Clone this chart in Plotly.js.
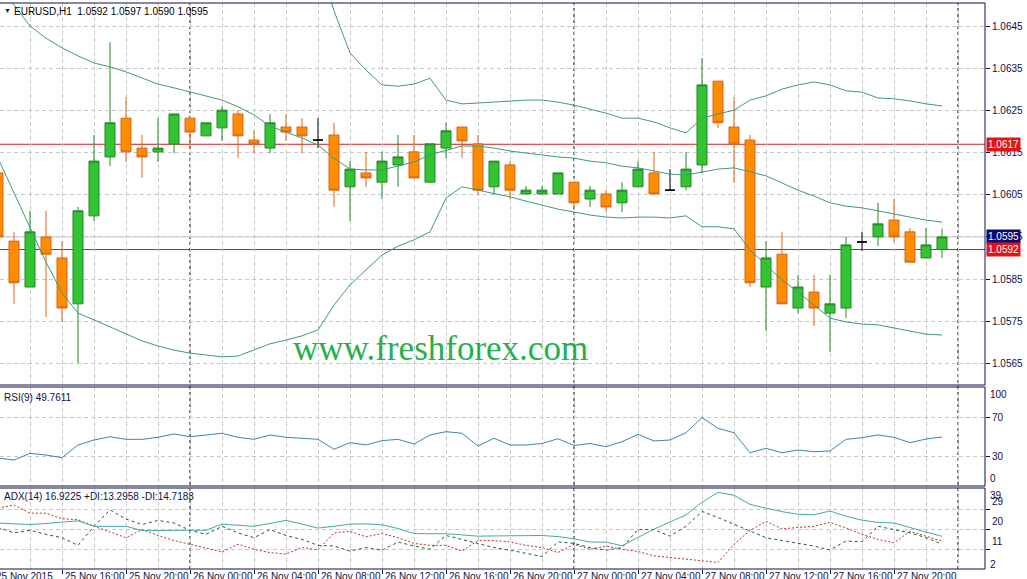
<!DOCTYPE html>
<html><head><meta charset="utf-8">
<script src="https://cdn.plot.ly/plotly-3.0.1.min.js"></script>
<style>html,body{margin:0;padding:0;background:#fff;}#chart{width:1027px;height:579px;}</style>
</head><body><div id="chart"></div>
<script>
// ---------- DATA ----------
const times = [
'2015-11-25 12:00','2015-11-25 13:00','2015-11-25 14:00','2015-11-25 15:00','2015-11-25 16:00','2015-11-25 17:00',
'2015-11-25 18:00','2015-11-25 19:00','2015-11-25 20:00','2015-11-25 21:00','2015-11-25 22:00','2015-11-25 23:00',
'2015-11-26 00:00','2015-11-26 01:00','2015-11-26 02:00','2015-11-26 03:00','2015-11-26 04:00','2015-11-26 05:00',
'2015-11-26 06:00','2015-11-26 07:00','2015-11-26 08:00','2015-11-26 09:00','2015-11-26 10:00','2015-11-26 11:00',
'2015-11-26 12:00','2015-11-26 13:00','2015-11-26 14:00','2015-11-26 15:00','2015-11-26 16:00','2015-11-26 17:00',
'2015-11-26 18:00','2015-11-26 19:00','2015-11-26 20:00','2015-11-26 21:00','2015-11-26 22:00','2015-11-26 23:00',
'2015-11-27 00:00','2015-11-27 01:00','2015-11-27 02:00','2015-11-27 03:00','2015-11-27 04:00','2015-11-27 05:00',
'2015-11-27 06:00','2015-11-27 07:00','2015-11-27 08:00','2015-11-27 09:00','2015-11-27 10:00','2015-11-27 11:00',
'2015-11-27 12:00','2015-11-27 13:00','2015-11-27 14:00','2015-11-27 15:00','2015-11-27 16:00','2015-11-27 17:00',
'2015-11-27 18:00','2015-11-27 19:00','2015-11-27 20:00','2015-11-27 21:00','2015-11-27 22:00','2015-11-27 23:00'];

const openP = [1.06102,1.0594,1.05831,1.0595,1.059,1.05791,1.06,1.0614,1.06232,1.06161,1.06152,1.06171,
1.06232,1.0619,1.06209,1.06242,1.0618,1.06161,1.06211,1.06211,1.0618,1.06192,1.06069,1.06102,1.0608,1.06121,1.06152,1.0608,1.06161,1.06211,1.06171,1.06069,1.06121,1.06052,1.06052,1.06052,
1.0608,1.0604,1.06052,1.06031,1.06069,1.06102,1.06061,1.06069,1.06121,1.0632,1.06211,1.0618,1.05831,1.05909,1.05781,1.05819,1.05769,1.05781,1.05938,1.0595,1.0599,1.05962,1.059,1.0592];
const highP = [1.06114,1.05962,1.06012,1.06012,1.0594,1.06021,1.06192,1.06413,1.06282,1.06192,1.06232,1.06242,
1.06232,1.06221,1.06261,1.06251,1.06202,1.06242,1.06242,1.06232,1.06232,1.06221,1.0613,1.06152,1.06152,1.06192,1.06192,1.06171,1.06221,1.06211,1.06192,1.0613,1.0613,1.06071,1.06071,1.06102,
1.0608,1.06071,1.06061,1.0608,1.0613,1.06152,1.06111,1.06152,1.06375,1.0632,1.06282,1.06192,1.0594,1.05962,1.0586,1.0586,1.0586,1.0595,1.05962,1.06031,1.0604,1.05971,1.05971,1.0597];
const lowP = [1.05943,1.05791,1.05831,1.0576,1.05748,1.0565,1.05988,1.06118,1.06128,1.0609,1.06128,1.06149,
1.06159,1.0619,1.06178,1.06137,1.06149,1.06149,1.06178,1.06149,1.06161,1.06021,1.05988,1.06069,1.0604,1.06069,1.0609,1.0608,1.06137,1.06137,1.0605,1.0605,1.0604,1.06052,1.06052,1.06052,
1.06014,1.06021,1.06009,1.06009,1.06069,1.06052,1.06061,1.06061,1.06102,1.06209,1.06078,1.05831,1.05726,1.05791,1.05769,1.05738,1.05677,1.05757,1.05917,1.05928,1.05938,1.0589,1.059,1.059];
const closeP = [1.0595,1.05841,1.05962,1.05909,1.05781,1.06012,1.0613,1.06221,1.06152,1.0614,1.06161,1.06242,
1.06199,1.06221,1.06251,1.0619,1.06171,1.06221,1.06199,1.0619,1.0618,1.06061,1.06111,1.0609,1.0613,1.0614,1.0609,1.06171,1.06202,1.06178,1.06061,1.0613,1.06061,1.06061,1.06061,1.06102,
1.06031,1.06061,1.06021,1.06061,1.06111,1.06052,1.06061,1.06111,1.06311,1.06221,1.06171,1.05841,1.059,1.05791,1.05831,1.05781,1.05791,1.05931,1.05938,1.05981,1.0595,1.0589,1.05931,1.0595];

const bbUpper = [1.06959,1.06947,1.06931,1.06955,1.06981,1.0699,1.06974,1.06971,1.06964,1.06952,1.06936,1.06926,
1.06914,1.069,1.06886,1.0685,1.06798,1.06731,1.06693,1.06655,1.06608,1.06487,1.06387,1.06346,1.06311,1.06308,1.06313,1.06327,1.06275,1.06266,1.06268,1.0627,1.06273,1.06275,1.06275,1.0627,
1.06263,1.06254,1.06244,1.06232,1.06232,1.06223,1.06209,1.06197,1.06232,1.06242,1.06251,1.06275,1.06285,1.06301,1.06311,1.06318,1.06311,1.06297,1.06294,1.0628,1.06278,1.06273,1.06266,1.06261];
const bbMiddle = [1.06548,1.06501,1.06451,1.06422,1.06399,1.0638,1.06363,1.06354,1.06342,1.06327,1.06313,1.06304,
1.06294,1.06285,1.06275,1.06259,1.0624,1.06213,1.06199,1.06185,1.06168,1.06137,1.06111,1.06109,1.06109,1.06118,1.06128,1.06145,1.06156,1.06166,1.06166,1.06161,1.06154,1.06149,1.06145,1.0614,
1.06137,1.0613,1.06126,1.06118,1.06114,1.06107,1.06099,1.06097,1.06104,1.06111,1.06114,1.06104,1.06095,1.06078,1.06061,1.06047,1.06031,1.06023,1.06019,1.06012,1.06004,1.05997,1.0599,1.05985];
const bbLower = [1.06137,1.06054,1.05971,1.0589,1.05817,1.05769,1.05753,1.05736,1.05719,1.05703,1.05691,1.05681,
1.05674,1.05669,1.05665,1.05667,1.05681,1.05696,1.05705,1.05715,1.05729,1.05788,1.05836,1.05871,1.05907,1.05928,1.05943,1.05962,1.06042,1.06069,1.06061,1.06054,1.06045,1.06035,1.06026,1.06016,
1.06009,1.06002,1.05997,1.05995,1.05997,1.05997,1.05995,1.06,1.05974,1.05974,1.05969,1.05919,1.05883,1.05848,1.05819,1.05788,1.05757,1.05748,1.05743,1.05741,1.05734,1.05726,1.05719,1.05717];

const rsi9 = [27.8,25.8,32.8,31,28.3,41.5,46.7,50.1,47.4,47.4,49.5,53,
50.1,51.9,53.7,49.5,47.4,51.9,49.5,48.5,47.4,37,43.9,41.5,46,47.4,42.5,51.9,55.4,53.7,40.4,48.5,41.5,41.5,43,48,
41,43,39.7,44.9,52.6,45.7,46.7,54.3,70,58.9,54.3,33.4,38,33.4,36.3,34.5,35.2,47.4,49.1,51.9,49.5,43.9,47.7,49.76];

const adx14 = [23.0,22.8,22.3,22.8,23.3,24.0,21.5,21.5,21.5,19.6,19.6,19.7,
19.7,19.7,22.5,22,21.5,22.8,24.2,22.5,20.7,21.5,22.5,22.6,22.2,20.5,18.2,18.1,18.1,17.6,17.0,17.1,17.2,17.3,17.3,16.8,
15.8,14.3,14.3,12.6,16.3,20.2,23.5,26.7,32.5,37,35.7,31.5,29.8,28.2,27,26.8,28.5,26.1,24.3,23.3,23,20.8,18.9,16.92];
const plusDI = [21,18.5,19.7,17.8,16.3,12.8,21.5,29,24.8,22.3,24.2,23,
19.7,17.8,21.5,18.5,16.3,20,17.3,15.5,12.8,12.5,10.2,11.8,10.6,14.3,12.5,11,17.3,15.5,13.6,11.8,10.6,9.2,7.7,14.4,
13.7,11.8,10.6,11.8,20,20,17,21.5,28.3,25.5,22.5,19.2,16.3,15,13.7,12.5,10.7,14.8,14.4,21.5,20,18.5,16.3,13.3];
const minusDI = [29.8,31.2,27.5,27.5,25,24.5,21.5,18.8,16.3,20,17.3,15,
13.3,11.3,9.8,13.3,11,9.5,8.8,11.8,10.7,18.5,19.2,16.7,18.2,16.3,13.7,12.8,12.8,10.2,15,15,14.4,12.8,11.8,9.5,
13.3,11,12.5,11,10,8,7.3,6.5,5.8,5,13.3,19.6,23.8,20.3,21,21.5,23.3,20.8,17.8,15.5,14,19.2,17,14.7];

const levelLines = [1.0617, 1.0592];
const bidPrice = 1.0595;
const priceTicks = [1.0565,1.0575,1.0585,1.0595,1.0605,1.0615,1.0625,1.0635,1.0645];
const rsiTicks = [30,70];
const adxTicks = [11,20,29];
const separators = ['2015-11-26 00:00','2015-11-27 00:00','2015-11-28 00:00'];
const tickTimes = ['2015-11-25 12:00','2015-11-25 16:00','2015-11-25 20:00','2015-11-26 00:00','2015-11-26 04:00',
'2015-11-26 08:00','2015-11-26 12:00','2015-11-26 16:00','2015-11-26 20:00','2015-11-27 00:00','2015-11-27 04:00',
'2015-11-27 08:00','2015-11-27 12:00','2015-11-27 16:00','2015-11-27 20:00'];
const tickLabels = ['25 Nov 2015','25 Nov 16:00','25 Nov 20:00','26 Nov 00:00','26 Nov 04:00','26 Nov 08:00',
'26 Nov 12:00','26 Nov 16:00','26 Nov 20:00','27 Nov 00:00','27 Nov 04:00','27 Nov 08:00','27 Nov 12:00',
'27 Nov 16:00','27 Nov 20:00'];
const headerText = 'EURUSD,H1  1.0592 1.0597 1.0590 1.0595';
const rsiText = 'RSI(9) 49.7611';
const adxText = 'ADX(14) 16.9225 +DI:13.2958 -DI:14.7183';
const watermark = 'www.freshforex.com';

// ---------- LAYOUT HELPERS ----------
const W = 1027, H = 579;
const px = x => x / W;
const py = y => 1 - y / H;
const XR = 985 / W;
const NAVY = '#10104a';
const GRID = '#c8c8c8';
const FONT = 'Liberation Sans, Arial, sans-serif';
const X0 = '2015-11-25 12:07:30', X1 = '2015-11-28 01:41:15';
const tms = s => Date.parse(s.replace(' ', 'T') + 'Z');
const xPaper = s => (tms(s) - tms(X0)) / (tms(X1) - tms(X0)) * XR;

function subset(cond) {
  const r = {x: [], open: [], high: [], low: [], close: []};
  for (let i = 0; i < times.length; i++) {
    if (cond(openP[i], closeP[i])) {
      r.x.push(times[i]); r.open.push(openP[i]); r.high.push(highP[i]);
      r.low.push(lowP[i]); r.close.push(closeP[i]);
    }
  }
  return r;
}
function candle(d, fill, line) {
  return Object.assign({
    type: 'candlestick', xaxis: 'x', yaxis: 'y', hoverinfo: 'skip',
    increasing: {fillcolor: fill, line: {color: line, width: 1}},
    decreasing: {fillcolor: fill, line: {color: line, width: 1}},
    whiskerwidth: 0
  }, d);
}

const traces = [
  candle(subset((o, c) => c > o), '#33c433', '#25862a'),
  candle(subset((o, c) => c < o), '#ff8c00', '#d8661c'),
  candle(subset((o, c) => c === o), '#000000', '#000000'),
  {type: 'scatter', mode: 'lines', x: times, y: bbUpper, xaxis: 'x', yaxis: 'y', line: {color: '#3f9a76', width: 1}, hoverinfo: 'skip'},
  {type: 'scatter', mode: 'lines', x: times, y: bbMiddle, xaxis: 'x', yaxis: 'y', line: {color: '#3f9a76', width: 1}, hoverinfo: 'skip'},
  {type: 'scatter', mode: 'lines', x: times, y: bbLower, xaxis: 'x', yaxis: 'y', line: {color: '#3f9a76', width: 1}, hoverinfo: 'skip'},
  {type: 'scatter', mode: 'lines', x: times, y: rsi9, xaxis: 'x', yaxis: 'y2', line: {color: '#3e86b0', width: 1}, hoverinfo: 'skip'},
  {type: 'scatter', mode: 'lines', x: times, y: minusDI, xaxis: 'x', yaxis: 'y3', line: {color: '#c0302a', width: 1, dash: '2px,2px'}, hoverinfo: 'skip'},
  {type: 'scatter', mode: 'lines', x: times, y: plusDI, xaxis: 'x', yaxis: 'y3', line: {color: '#1f5e35', width: 1, dash: '3px,3px'}, hoverinfo: 'skip'},
  {type: 'scatter', mode: 'lines', x: times, y: adx14, xaxis: 'x', yaxis: 'y3', line: {color: '#44aaa8', width: 1}, hoverinfo: 'skip'}
];

const shapes = [];
shapes.push({type: 'line', layer: 'between', xref: 'paper', x0: 0, x1: XR, yref: 'y', y0: bidPrice, y1: bidPrice, line: {color: '#c4c4c4', width: 1}});
levelLines.forEach(v => shapes.push({type: 'line', layer: 'between', xref: 'paper', x0: 0, x1: XR, yref: 'y', y0: v, y1: v, line: {color: '#c81e1e', width: 1}}));
separators.forEach(t => shapes.push({type: 'line', layer: 'between', xref: 'x', x0: t, x1: t, yref: 'paper', y0: py(569), y1: py(3), line: {color: '#000000', width: 1, dash: '3px,3px'}}));
[[3, 385], [387, 486], [488, 569]].forEach(([a, b]) => shapes.push({type: 'rect', layer: 'above', xref: 'paper', yref: 'paper', x0: -0.01, x1: XR, y0: py(b), y1: py(a), line: {color: NAVY, width: 1}, fillcolor: 'rgba(0,0,0,0)'}));

const annotations = [];
const ann = (o) => annotations.push(Object.assign({showarrow: false, font: {family: FONT, size: 10, color: NAVY}}, o));
ann({text: '▼', xref: 'paper', yref: 'paper', x: px(2), y: py(11), xanchor: 'left', yanchor: 'middle', font: {family: FONT, size: 7, color: NAVY}});
ann({text: headerText, xref: 'paper', yref: 'paper', x: px(12), y: py(12), xanchor: 'left', yanchor: 'middle', font: {family: FONT, size: 10, color: '#000000'}});
ann({text: rsiText, xref: 'paper', yref: 'paper', x: px(2), y: py(397), xanchor: 'left', yanchor: 'middle'});
ann({text: adxText, xref: 'paper', yref: 'paper', x: px(2), y: py(496), xanchor: 'left', yanchor: 'middle'});
ann({text: watermark, xref: 'paper', yref: 'paper', x: px(440), y: py(348), xanchor: 'center', yanchor: 'middle', font: {family: 'Liberation Serif, Times New Roman, serif', size: 35, color: '#26b04a'}});
tickTimes.forEach((t, i) => ann({text: tickLabels[i], xref: 'paper', yref: 'paper', x: xPaper(t) + (i === 0 ? -4 / W : 1 / W), y: py(569), xanchor: 'left', yanchor: 'top'}));
ann({text: '100', xref: 'paper', yref: 'y2', x: px(988), y: 100, xanchor: 'left', yanchor: 'middle', yshift: -6});
ann({text: '0', xref: 'paper', yref: 'y2', x: px(988), y: 0, xanchor: 'left', yanchor: 'middle', yshift: 6});
ann({text: '39', xref: 'paper', yref: 'y3', x: px(988), y: 39, xanchor: 'left', yanchor: 'middle', yshift: -7});
ann({text: '2', xref: 'paper', yref: 'y3', x: px(988), y: 2, xanchor: 'left', yanchor: 'middle', yshift: 5});
ann({text: '1.0617', xref: 'paper', yref: 'y', x: px(986), y: levelLines[0], xanchor: 'left', yanchor: 'middle', bgcolor: '#e01414', borderpad: 1, font: {family: FONT, size: 10, color: '#ffffff'}});
ann({text: '1.0595', xref: 'paper', yref: 'y', x: px(986), y: bidPrice, xanchor: 'left', yanchor: 'middle', bgcolor: '#0a0a70', borderpad: 1, font: {family: FONT, size: 10, color: '#ffffff'}});
ann({text: '1.0592', xref: 'paper', yref: 'y', x: px(986), y: levelLines[1], xanchor: 'left', yanchor: 'middle', bgcolor: '#e01414', borderpad: 1, font: {family: FONT, size: 10, color: '#ffffff'}});

const yCommon = {anchor: 'x', side: 'right', showgrid: true, gridcolor: GRID, griddash: '4px,3px', gridwidth: 1,
  ticks: 'outside', ticklen: 4, tickcolor: NAVY, zeroline: false, showline: false, fixedrange: true,
  tickfont: {family: FONT, size: 10, color: NAVY}};

const layout = {
  width: W, height: H, margin: {l: 0, r: 0, t: 0, b: 0},
  paper_bgcolor: '#ffffff', plot_bgcolor: '#ffffff',
  showlegend: false, hovermode: false,
  boxmode: 'overlay', boxgap: 0.375, boxgroupgap: 0,
  font: {family: FONT, size: 10, color: NAVY},
  xaxis: {type: 'date', domain: [0, XR], range: [X0, X1],
    anchor: 'y3', rangeslider: {visible: false}, showgrid: true, gridcolor: GRID, griddash: '4px,3px', gridwidth: 1,
    tickvals: tickTimes, showticklabels: false, ticks: 'outside', ticklen: 4, tickcolor: NAVY,
    minor: {dtick: 7200000, tick0: '2015-11-25 00:00', showgrid: true, gridcolor: GRID, griddash: '4px,3px', ticks: ''},
    zeroline: false, showline: false, fixedrange: true},
  yaxis: Object.assign({}, yCommon, {domain: [py(385), py(3)], range: [1.055982, 1.065056], tickvals: priceTicks, tickformat: '.4f'}),
  yaxis2: Object.assign({}, yCommon, {domain: [py(486), py(387)], range: [-1.3, 102], tickvals: rsiTicks}),
  yaxis3: Object.assign({}, yCommon, {domain: [py(569), py(488)], range: [2, 39], tickvals: adxTicks, ticklabelshift: -8}),
  shapes: shapes, annotations: annotations
};

Plotly.newPlot('chart', traces, layout, {staticPlot: true, displayModeBar: false});
</script></body></html>
